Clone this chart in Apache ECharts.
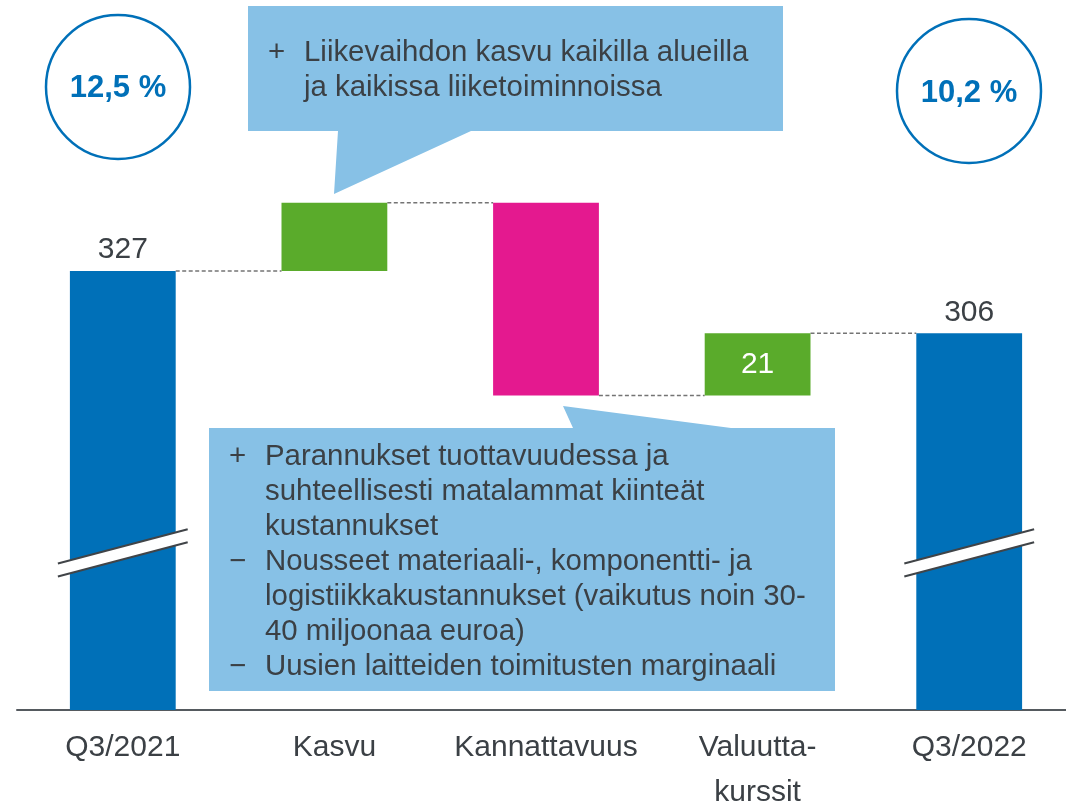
<!DOCTYPE html>
<html><head><meta charset="utf-8">
<script src="https://cdn.jsdelivr.net/npm/echarts@6/dist/echarts.min.js"></script>
<style>html,body{margin:0;padding:0;background:#fff}#c{width:1066px;height:806px}</style>
</head><body><div id="c"></div>
<script>
// ---- data ----
const categories = ['Q3/2021', 'Kasvu', 'Kannattavuus', 'Valuutta-\nkurssit', 'Q3/2022'];
const changes = [327, 23, -65, 21, 306];
const isTotal = [true, false, false, false, true];
const barLabels = ['327', '', '', '21', '306'];
const barColors = ['#0070b8', '#5aab2b', '#e4198f', '#5aab2b', '#0070b8'];
const marginLabels = ['12,5 %', '10,2 %'];
const noteTopBullets = ['+'];
const noteTopLines = ['Liikevaihdon kasvu kaikilla alueilla', 'ja kaikissa liiketoiminnoissa'];
const noteBottomBullets = ['+', '', '', '−', '', '', '−'];
const noteBottomLines = [
  'Parannukset tuottavuudessa ja',
  'suhteellisesti matalammat kiinteät',
  'kustannukset',
  'Nousseet materiaali-, komponentti- ja',
  'logistiikkakustannukset (vaikutus noin 30-',
  '40 miljoonaa euroa)',
  'Uusien laitteiden toimitusten marginaali'
];
const axisBreakValue = 232;
const yMin = 179, yMax = 415;

// ---- waterfall build ----
const base = [], height = [], levels = [];
let run = 0;
changes.forEach((v, i) => {
  if (isTotal[i]) { base.push('-'); height.push(v); run = v; }
  else if (v >= 0) { base.push(run); height.push(v); run += v; }
  else { run += v; base.push(run); height.push(-v); }
  levels.push(run);
});

const TXT = '#3b4045';
const FONT = '"Liberation Sans", Arial, sans-serif';

const chart = echarts.init(document.getElementById('c'), null, { renderer: 'canvas' });
chart.setOption({
  animation: false,
  backgroundColor: '#fff',
  grid: { left: 17, right: -9, top: 10, bottom: 96, outerBoundsMode: 'none', containLabel: false },
  xAxis: {
    type: 'category', data: categories,
    axisTick: { show: false },
    axisLine: { lineStyle: { color: '#555a5f', width: 2 } },
    axisLabel: { interval: 0, fontSize: 30, color: TXT, fontFamily: FONT, lineHeight: 45, margin: 15 }
  },
  yAxis: { type: 'value', min: yMin, max: yMax, show: false, splitLine: { show: false } },
  series: [
    {
      type: 'bar', stack: 'w', data: base, barWidth: '50%', silent: true,
      itemStyle: { color: 'transparent' }
    },
    {
      type: 'bar', stack: 'w', barWidth: '50%', z: 3,
      data: height.map((h, i) => ({
        value: h,
        itemStyle: { color: barColors[i] },
        label: {
          show: barLabels[i] !== '',
          formatter: barLabels[i],
          position: isTotal[i] ? 'top' : 'inside',
          distance: 6,
          color: isTotal[i] ? TXT : '#ffffff',
          fontSize: 30, fontFamily: FONT
        }
      }))
    },
    {
      type: 'custom', silent: true, z: 2,
      data: levels.slice(0, levels.length - 1).map((l, i) => [i, l]),
      renderItem: (params, api) => {
        const i = api.value(0), lvl = api.value(1);
        const p0 = api.coord([i, lvl]);
        const p1 = api.coord([i + 1, lvl]);
        const hw = api.size([1, 0])[0] * 0.25;
        return {
          type: 'line',
          shape: { x1: p0[0] + hw, y1: p0[1], x2: p1[0] - hw, y2: p1[1] },
          style: { stroke: '#747474', lineWidth: 1.5, lineDash: [4, 2.5] }
        };
      }
    },
    {
      type: 'custom', silent: true, z: 10,
      data: [[0, axisBreakValue], [categories.length - 1, axisBreakValue]],
      renderItem: (params, api) => {
        const c = api.coord([api.value(0), api.value(1)]);
        const hl = api.size([1, 0])[0] * 0.25 + 12;
        const rise = hl * 0.264, gap = 6.5;
        const a1 = [c[0] - hl, c[1] + rise - gap], b1 = [c[0] + hl, c[1] - rise - gap];
        const a2 = [c[0] - hl, c[1] + rise + gap], b2 = [c[0] + hl, c[1] - rise + gap];
        return {
          type: 'group', children: [
            { type: 'polygon', shape: { points: [a1, b1, b2, a2] }, style: { fill: '#ffffff' } },
            { type: 'line', shape: { x1: a1[0], y1: a1[1], x2: b1[0], y2: b1[1] }, style: { stroke: '#404448', lineWidth: 2 } },
            { type: 'line', shape: { x1: a2[0], y1: a2[1], x2: b2[0], y2: b2[1] }, style: { stroke: '#404448', lineWidth: 2 } }
          ]
        };
      }
    }
  ],
  graphic: [
    { type: 'circle', shape: { cx: 118, cy: 87, r: 72 }, style: { fill: '#fff', stroke: '#0070b8', lineWidth: 2.5 } },
    { type: 'text', style: { text: marginLabels[0], x: 118, y: 88, align: 'center', verticalAlign: 'middle', font: 'bold 31px ' + FONT, fill: '#0070b8' } },
    { type: 'circle', shape: { cx: 969, cy: 91, r: 72 }, style: { fill: '#fff', stroke: '#0070b8', lineWidth: 2.5 } },
    { type: 'text', style: { text: marginLabels[1], x: 969, y: 93, align: 'center', verticalAlign: 'middle', font: 'bold 31px ' + FONT, fill: '#0070b8' } },
    { type: 'polygon', z: 20, shape: { points: [[248, 6], [783, 6], [783, 131], [471, 131], [334, 194], [338, 131], [248, 131]] }, style: { fill: '#87c1e6' } },
    { type: 'text', z: 21, style: { text: noteTopBullets.join('\n'), x: 268, y: 35.5, verticalAlign: 'top', lineHeight: 35, font: '29.4px ' + FONT, fill: TXT } },
    { type: 'text', z: 21, style: { text: noteTopLines.join('\n'), x: 304, y: 35.5, verticalAlign: 'top', lineHeight: 35, font: '29.4px ' + FONT, fill: TXT } },
    { type: 'polygon', z: 20, shape: { points: [[209, 428], [573, 428], [563, 406], [731, 428], [835, 428], [835, 691], [209, 691]] }, style: { fill: '#87c1e6' } },
    { type: 'text', z: 21, style: { text: noteBottomBullets.join('\n'), x: 229, y: 439.5, verticalAlign: 'top', lineHeight: 35, font: '29.4px ' + FONT, fill: TXT } },
    { type: 'text', z: 21, style: { text: noteBottomLines.join('\n'), x: 265, y: 439.5, verticalAlign: 'top', lineHeight: 35, font: '29.4px ' + FONT, fill: TXT } }
  ]
});
</script>
</body></html>
